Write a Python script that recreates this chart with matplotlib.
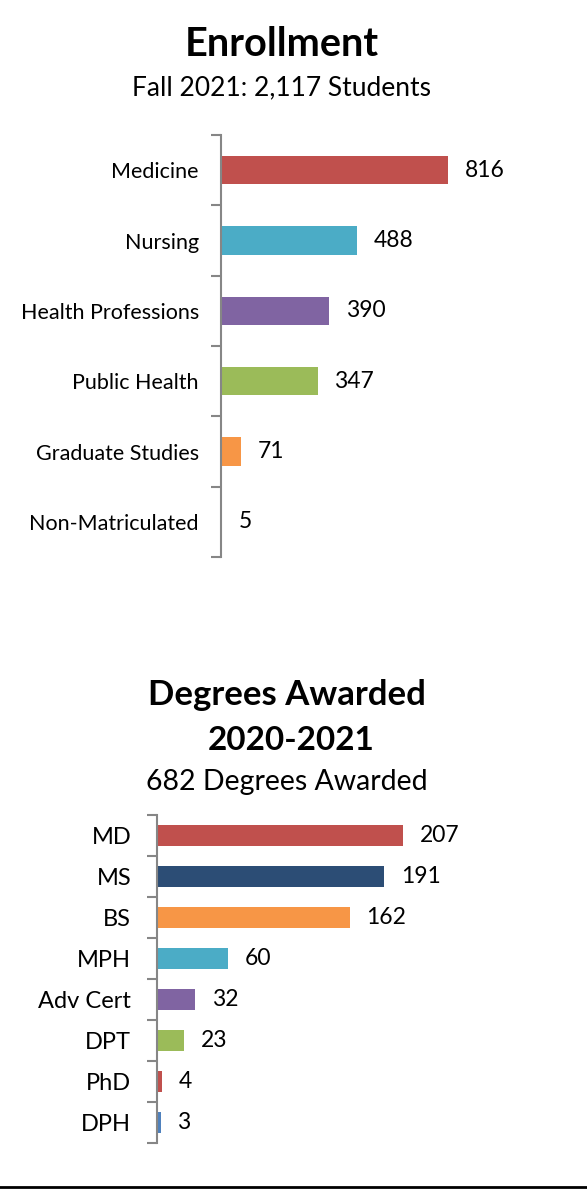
import numpy as np
import matplotlib.pyplot as plt
from matplotlib.lines import Line2D

plt.rcParams['font.family'] = ['Lato', 'DejaVu Sans']

# ------------------------------------
# Data
# ------------------------------------
enroll_labels = ['Medicine', 'Nursing', 'Health Professions', 'Public Health',
                 'Graduate Studies', 'Non-Matriculated']
enroll_values = [816, 488, 390, 347, 71, 5]
enroll_colors = ['#C0504D', '#4BACC6', '#8064A2', '#9BBB59', '#F79646', '#4F81BD']

degree_labels = ['MD', 'MS', 'BS', 'MPH', 'Adv Cert', 'DPT', 'PhD', 'DPH']
degree_values = [207, 191, 162, 60, 32, 23, 4, 3]
degree_colors = ['#C0504D', '#2C4D75', '#F79646', '#4BACC6', '#8064A2',
                 '#9BBB59', '#C0504D', '#4F81BD']

W, H = 587, 1189
fig = plt.figure(figsize=(W / 100, H / 100), dpi=100)


def px_axes(left, top, right, bottom):
    return fig.add_axes([left / W, 1 - bottom / H, (right - left) / W, (bottom - top) / H])


def hbar(ax, labels, values, colors, xmax, height, label_size, value_size, pad, offset):
    n = len(labels)
    y = np.arange(n)
    ax.barh(y, values, height=height, color=colors)
    ax.set_ylim(n - 0.5, -0.5)
    ax.set_xlim(0, xmax)
    ax.set_yticks(y)
    ax.set_yticklabels(labels, fontsize=label_size)
    ax.set_yticks(np.arange(n + 1) - 0.5, minor=True)
    ax.tick_params(axis='y', which='major', length=0, pad=pad)
    ax.tick_params(axis='y', which='minor', length=7, width=1.5, color='#868686')
    ax.set_xticks([])
    for s in ['top', 'right', 'bottom']:
        ax.spines[s].set_visible(False)
    ax.spines['left'].set_color('#868686')
    ax.spines['left'].set_linewidth(1.5)
    for yi, v in zip(y, values):
        ax.annotate(str(v), (v, yi), xytext=(offset, 0), textcoords='offset points',
                    va='center', ha='left', fontsize=value_size)


# ------------------------------------
# Enrollment
# ------------------------------------
ax1 = px_axes(221, 135, 560, 557)
hbar(ax1, enroll_labels, enroll_values, enroll_colors, 816 * 339 / 227,
     0.4, 15.5, 16.5, 16, 12)
fig.text(282 / W, 1 - 45 / H, 'Enrollment', ha='center', va='center',
         fontsize=28.5, fontweight='bold')
fig.text(282 / W, 1 - 88 / H, 'Fall 2021: 2,117 Students', ha='center', va='center',
         fontsize=19)

# ------------------------------------
# Degrees Awarded
# ------------------------------------
ax2 = px_axes(157, 815, 560, 1143)
hbar(ax2, degree_labels, degree_values, degree_colors, 207 * 403 / 246,
     0.5, 17, 16.5, 18.5, 12)
fig.text(287 / W, 1 - 695 / H, 'Degrees Awarded', ha='center', va='center',
         fontsize=25, fontweight='bold')
fig.text(291 / W, 1 - 740 / H, '2020-2021', ha='center', va='center',
         fontsize=24, fontweight='bold')
fig.text(287 / W, 1 - 782 / H, '682 Degrees Awarded', ha='center', va='center',
         fontsize=20.5)

# bottom rule
fig.add_artist(Line2D([0, 1], [1 - 1187 / H, 1 - 1187 / H], color='black',
                      linewidth=2, transform=fig.transFigure))

fig.savefig('out.png', dpi=100)
